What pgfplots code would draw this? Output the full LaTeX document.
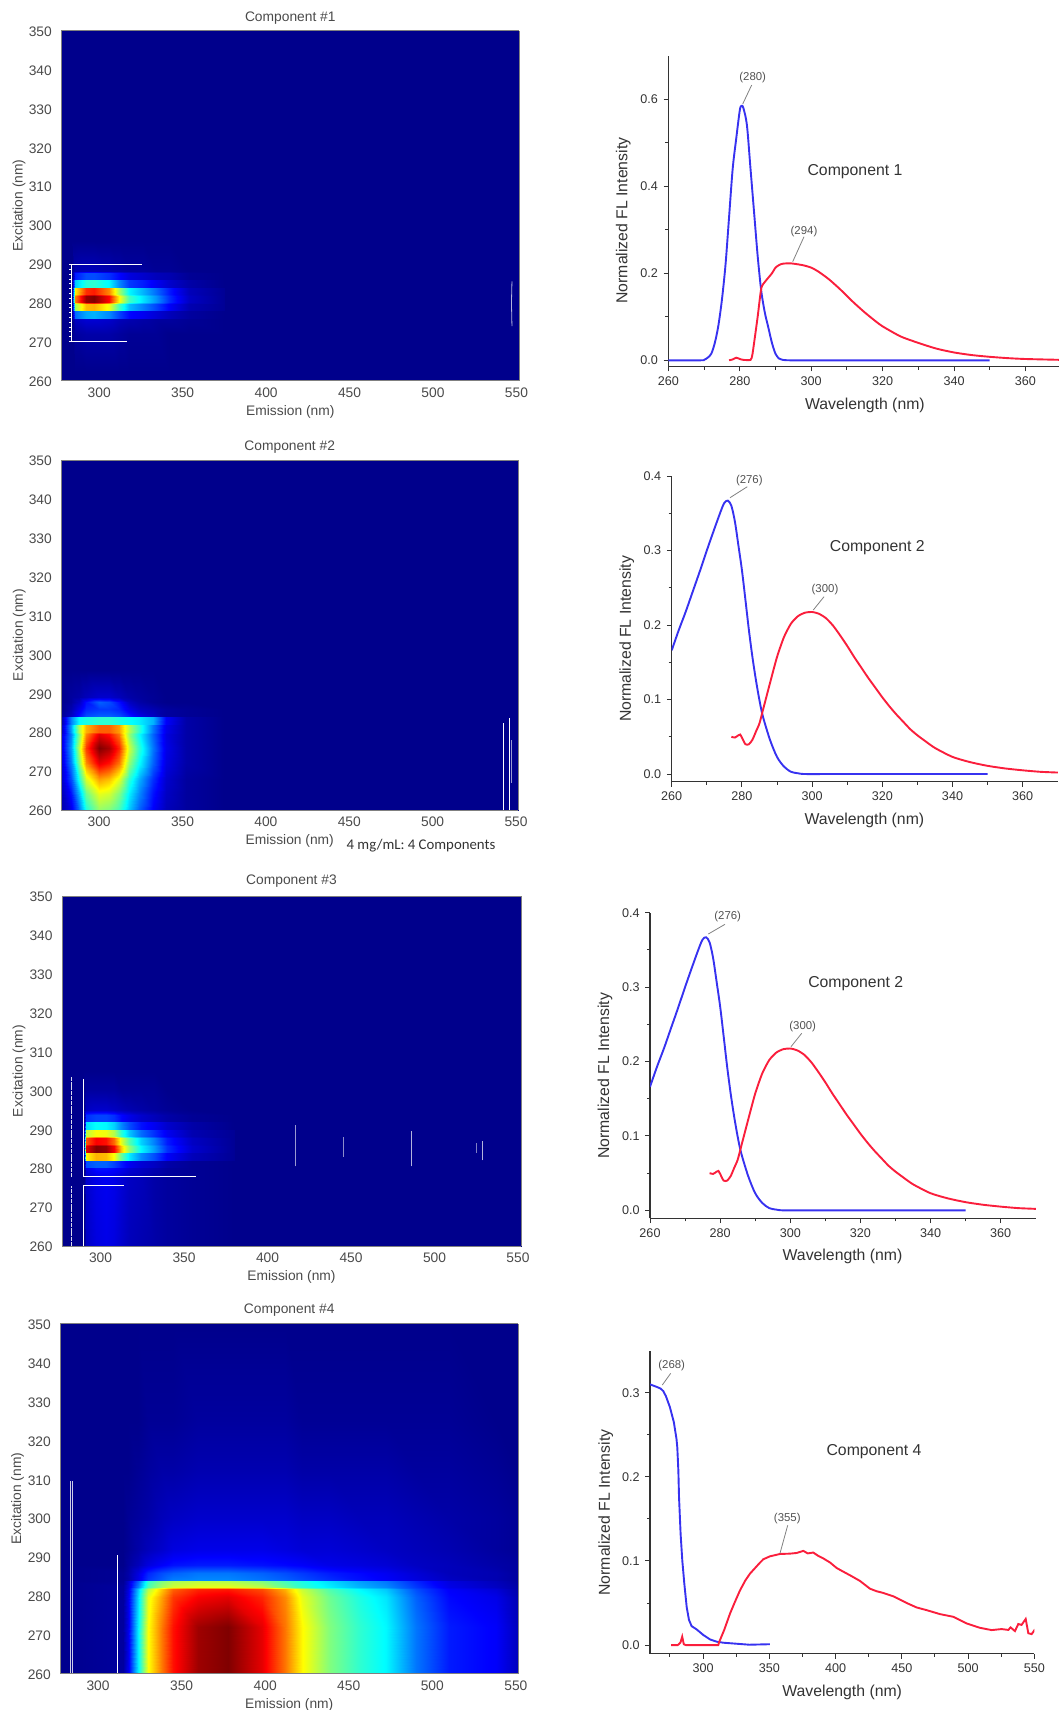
\documentclass[border=0pt]{standalone}
\usepackage{fontspec}
\setmainfont{Liberation Sans}
\newfontfamily\calib{Carlito}
\usepackage{pgfplots}
\usepackage{pgfplotstable}
\pgfplotsset{compat=1.18}
\definecolor{hgray}{HTML}{4A4A4A}
\definecolor{rgray}{HTML}{333333}
\definecolor{cblue}{RGB}{55,50,240}
\definecolor{cred}{RGB}{250,30,60}
\pgfplotsset{
 colormap={myjet}{rgb255(0cm)=(0,0,140); rgb255(1cm)=(0,0,255); rgb255(3cm)=(0,255,255); rgb255(5cm)=(255,255,0); rgb255(7cm)=(255,0,0); rgb255(8cm)=(128,0,0)},
 heat/.style={scale only axis, anchor=south west, view={0}{90}, ymin=260, ymax=350, zmin=0, zmax=1,
  xtick={300,350,...,550}, ytick={260,270,...,350}, ztick=\empty,
  colormap name=myjet, point meta min=0, point meta max=1,
  tick style={draw=none}, axis line style={draw=gray, line width=.4pt},
  /pgf/number format/assume math mode=true,
  every axis title shift=0pt,
  tick label style={font=\fontsize{6.9}{8}\selectfont, text=hgray},
  label style={font=\fontsize{6.9}{8}\selectfont, text=hgray},
  title style={font=\fontsize{6.9}{8}\selectfont, text=hgray, at={(axis description cs:.5,1)}, anchor=center},
  xticklabel style={anchor=center, yshift=-6pt},
  yticklabel style={anchor=east, xshift=-1.2pt, yshift=-.5pt},
  xlabel={Emission (nm)}, ylabel={Excitation (nm)},
  xlabel style={at={(axis description cs:.5,0)}, anchor=center, yshift=-15.6pt}},
 fl/.style={scale only axis, anchor=south west, axis lines*=left, axis line style={-, draw=rgray, line width=.55pt},
  tick align=outside, tick style={draw=rgray, line width=.5pt}, major tick length=2.4pt, minor tick length=1.5pt,
  /pgf/number format/fixed, /pgf/number format/fixed zerofill, /pgf/number format/precision=1, /pgf/number format/assume math mode=true,
  tick label style={font=\fontsize{6.3}{8}\selectfont, text=rgray},
  label style={font=\fontsize{7.9}{9}\selectfont, text=rgray},
  xticklabel style={anchor=center, yshift=-4.8pt, /pgf/number format/precision=0},
  yticklabel style={anchor=east, xshift=.7pt},
  xlabel={Wavelength (nm)}, ylabel={Normalized FL Intensity}},
 bl/.style={draw=cblue, line width=.95pt, mark=none},
 rd/.style={draw=cred, line width=.95pt, mark=none},
 wl/.style={draw=white, line width=.4pt, mark=none}
}
\pgfplotstableread{
x y
260 0
269 0
270 .001
271 .006
272 .015
273 .04
274 .08
275 .14
276 .22
277 .33
278 .44
279 .51
280 .575
280.5 .585
281 .58
282 .54
283 .44
284 .34
285 .24
286 .16
287 .11
288 .075
289 .04
290 .015
291 .004
292 .001
294 0
300 0
340 0
350 0
}\Aex
\pgfplotstableread{
x y
277 0
278 .002
279 .006
280 .003
281 .001
283 .001
283.5 .012
284 .04
285 .1
286 .165
287 .18
288 .19
289 .2
290 .213
291 .219
292 .222
294 .223
296 .221
298 .218
300 .213
302 .204
305 .186
308 .164
310 .148
312 .132
315 .11
318 .09
320 .078
325 .055
330 .04
335 .027
340 .018
345 .012
350 .008
355 .005
360 .003
370 .001
}\Aem
\pgfplotstableread{
x y
260 .166
262 .193
264 .218
266 .245
268 .272
270 .3
272 .327
274 .353
275 .364
276 .367
277 .36
278 .339
279 .307
280 .274
281 .234
282 .193
283 .157
284 .126
285 .099
286 .077
288 .046
290 .023
292 .01
294 .003
296 .001
298 0
305 0
340 0
350 0
}\Bex
\pgfplotstableread{
x y
277 .05
278 .049
279 .052
279.5 .053
280 .049
281 .04
282 .04
283 .046
284 .057
285 .068
286 .086
288 .122
290 .157
292 .184
294 .202
296 .212
298 .2166
300 .2175
302 .215
304 .209
306 .199
308 .186
310 .172
312 .157
314 .143
316 .129
318 .116
320 .103
322 .091
324 .08
326 .07
328 .06
330 .052
332 .045
335 .035
340 .023
345 .016
350 .011
355 .0075
360 .005
365 .003
370 .002
}\Bem
\pgfplotstableread{
x y
260 .31
265 .307
268 .305
270 .302
272 .296
275 .283
278 .265
280 .245
280.6 .235
281.4 .2075
281.9 .176
283.1 .132
284.4 .1
285.9 .073
287.7 .045
289.4 .03
291.4 .0225
295.2 .0186
300.2 .012
305.3 .0067
310.3 .004
315.3 .0028
325 .0016
335 .0004
350.5 .001
}\Dex
\pgfplotstableread{
x y
276 0
281 0
283 .003
284.3 .01
285.5 .001
287 0
311.5 0
312.3 .004
316 .018
320.4 .0375
324 .051
327.9 .065
332 .077
335.5 .085
340.5 .0937
343 .098
345.5 .102
350.5 .1055
358.1 .1083
365.6 .1087
370.7 .1095
375.7 .112
379 .109
383.2 .11
387 .106
390.8 .103
396 .098
400.8 .0917
405 .088
410.9 .083
418.4 .0763
426 .067
431 .064
436 .062
443.6 .058
453.7 .05
461.2 .0447
468.8 .0415
478.8 .0368
488.9 .0336
498.9 .0257
509 .0205
517.8 .0178
525.3 .019
530.4 .018
532.1 .021
535.4 .0166
537.9 .025
540.4 .024
543.5 .031
545.5 .014
548 .013
550.5 .0186
}\Dem
\begin{document}
\begin{tikzpicture}[x=.5pt,y=-.5pt]
\path[use as bounding box] (0,0) rectangle (1059,1710);
% ---- Heat map 1
\begin{axis}[heat, at={(30.65pt,-190.3pt)}, width=229pt, height=175pt, xmin=277.3, xmax=551.7, title={Component \#1}, title style={yshift=6.3pt}, ylabel style={at={(axis description cs:-.092,.5)}, anchor=center}]
\addplot3[surf, shader=interp, mesh/cols=2] coordinates {(270,260,0)(560,260,0)(270,350,0)(560,350,0)};
\addplot3[surf, shader=interp, mesh/cols=12] coordinates {
(284,262,0)(285.5,262,0)(292,262,0)(297,262,0)(306,262,0)(312,262,0)(318,262,0)(326,262,0)(334,262,0)(342,262,0)(354,262,0)(375,262,0)
(284,272,0)(285.5,272,.02)(292,272,.03)(297,272,.03)(306,272,.03)(312,272,.02)(318,272,.01)(326,272,.01)(334,272,.01)(342,272,0)(354,272,0)(375,272,0)
(284,275.8,0)(285.5,275.8,.06)(292,275.8,.08)(297,275.8,.08)(306,275.8,.07)(312,275.8,.05)(318,275.8,.04)(326,275.8,.03)(334,275.8,.02)(342,275.8,.02)(354,275.8,.01)(375,275.8,0)
(284,276.2,0)(285.5,276.2,.23)(292,276.2,.29)(297,276.2,.3)(306,276.2,.26)(312,276.2,.19)(318,276.2,.13)(326,276.2,.11)(334,276.2,.08)(342,276.2,.05)(354,276.2,.02)(375,276.2,0)
(284,277.8,0)(285.5,277.8,.23)(292,277.8,.29)(297,277.8,.3)(306,277.8,.26)(312,277.8,.19)(318,277.8,.13)(326,277.8,.11)(334,277.8,.08)(342,277.8,.05)(354,277.8,.02)(375,277.8,0)
(284,278.2,0)(285.5,278.2,.53)(292,278.2,.69)(297,278.2,.7)(306,278.2,.61)(312,278.2,.44)(318,278.2,.31)(326,278.2,.25)(334,278.2,.19)(342,278.2,.12)(354,278.2,.04)(375,278.2,.01)
(284,279.8,0)(285.5,279.8,.53)(292,279.8,.69)(297,279.8,.7)(306,279.8,.61)(312,279.8,.44)(318,279.8,.31)(326,279.8,.25)(334,279.8,.19)(342,279.8,.12)(354,279.8,.04)(375,279.8,.01)
(284,280.2,0)(285.5,280.2,.75)(292,280.2,.98)(297,280.2,1)(306,280.2,.87)(312,280.2,.63)(318,280.2,.44)(326,280.2,.35)(334,280.2,.27)(342,280.2,.17)(354,280.2,.06)(375,280.2,.01)
(284,281.8,0)(285.5,281.8,.75)(292,281.8,.98)(297,281.8,1)(306,281.8,.87)(312,281.8,.63)(318,281.8,.44)(326,281.8,.35)(334,281.8,.27)(342,281.8,.17)(354,281.8,.06)(375,281.8,.01)
(284,282.2,0)(285.5,282.2,.64)(292,282.2,.83)(297,282.2,.85)(306,282.2,.74)(312,282.2,.54)(318,282.2,.37)(326,282.2,.3)(334,282.2,.23)(342,282.2,.15)(354,282.2,.05)(375,282.2,.01)
(284,283.8,0)(285.5,283.8,.64)(292,283.8,.83)(297,283.8,.85)(306,283.8,.74)(312,283.8,.54)(318,283.8,.37)(326,283.8,.3)(334,283.8,.23)(342,283.8,.15)(354,283.8,.05)(375,283.8,.01)
(284,284.2,0)(285.5,284.2,.32)(292,284.2,.41)(297,284.2,.42)(306,284.2,.37)(312,284.2,.26)(318,284.2,.18)(326,284.2,.15)(334,284.2,.11)(342,284.2,.07)(354,284.2,.03)(375,284.2,0)
(284,285.8,0)(285.5,285.8,.32)(292,285.8,.41)(297,285.8,.42)(306,285.8,.37)(312,285.8,.26)(318,285.8,.18)(326,285.8,.15)(334,285.8,.11)(342,285.8,.07)(354,285.8,.03)(375,285.8,0)
(284,286.2,0)(285.5,286.2,.15)(292,286.2,.2)(297,286.2,.2)(306,286.2,.17)(312,286.2,.13)(318,286.2,.09)(326,286.2,.07)(334,286.2,.05)(342,286.2,.04)(354,286.2,.01)(375,286.2,0)
(284,287.8,0)(285.5,287.8,.15)(292,287.8,.2)(297,287.8,.2)(306,287.8,.17)(312,287.8,.13)(318,287.8,.09)(326,287.8,.07)(334,287.8,.05)(342,287.8,.04)(354,287.8,.01)(375,287.8,0)
(284,288.2,0)(285.5,288.2,.04)(292,288.2,.05)(297,288.2,.05)(306,288.2,.04)(312,288.2,.03)(318,288.2,.02)(326,288.2,.02)(334,288.2,.01)(342,288.2,.01)(354,288.2,0)(375,288.2,0)
(284,296,0)(285.5,296,0)(292,296,0)(297,296,0)(306,296,0)(312,296,0)(318,296,0)(326,296,0)(334,296,0)(342,296,0)(354,296,0)(375,296,0)
};
\addplot3[wl, dotted, line width=.8pt] coordinates {(282.6,270,1)(282.6,290,1)};
\addplot3[wl] coordinates {(284,270.2,1)(283.4,270.2,1)(283.4,289.8,1)(284,289.8,1)(325.7,289.8,1)};
\addplot3[wl] coordinates {(283.4,270.2,1)(316.9,270.2,1)};
\addplot3[wl, draw opacity=.7] coordinates {(547.3,274,1)(547,280,1)(547.3,285.5,1)};
\end{axis}
% ---- Heat map 2
\begin{axis}[heat, at={(30.65pt,-405pt)}, width=228.45pt, height=175pt, xmin=277.3, xmax=551.3, title={Component \#2}, title style={yshift=6.5pt}, ylabel style={at={(axis description cs:-.092,.5)}, anchor=center}]
\addplot3[surf, shader=interp, mesh/cols=2] coordinates {(270,260,0)(560,260,0)(270,350,0)(560,350,0)};
\addplot3[surf, shader=interp, mesh/cols=13] coordinates {
(277,260,.03)(283,260,.1)(288,260,.24)(292,260,.4)(300,260,.52)(306,260,.5)(312,260,.44)(318,260,.32)(324,260,.22)(332,260,.12)(340,260,.05)(352,260,.02)(375,260,0)
(277,264,.04)(283,264,.14)(288,264,.3)(292,264,.48)(300,264,.6)(306,264,.58)(312,264,.5)(318,264,.36)(324,264,.26)(332,264,.14)(340,264,.06)(352,264,.02)(375,264,0)
(277,268,.06)(283,268,.2)(288,268,.4)(292,268,.59)(300,268,.72)(306,268,.69)(312,268,.6)(318,268,.42)(324,268,.3)(332,268,.17)(340,268,.07)(352,268,.02)(375,268,0)
(277,272,.07)(283,272,.25)(288,272,.5)(292,272,.74)(300,272,.9)(306,272,.86)(312,272,.76)(318,272,.52)(324,272,.38)(332,272,.22)(340,272,.09)(352,272,.03)(375,272,0)
(277,276,.08)(283,276,.28)(288,276,.56)(292,276,.82)(300,276,1)(306,276,.96)(312,276,.84)(318,276,.58)(324,276,.42)(332,276,.24)(340,276,.1)(352,276,.03)(375,276,0)
(277,279.6,.07)(283,279.6,.25)(288,279.6,.5)(292,279.6,.74)(300,279.6,.9)(306,279.6,.86)(312,279.6,.76)(318,279.6,.52)(324,279.6,.38)(332,279.6,.22)(340,279.6,.09)(352,279.6,.03)(375,279.6,0)
(277,280,.04)(283,280,.28)(288,280,.55)(292,280,.7)(300,280,.78)(306,280,.78)(312,280,.72)(318,280,.55)(324,280,.42)(332,280,.24)(340,280,.1)(352,280,.03)(375,280,0)
(277,281.8,.04)(283,281.8,.28)(288,281.8,.55)(292,281.8,.7)(300,281.8,.78)(306,281.8,.78)(312,281.8,.72)(318,281.8,.55)(324,281.8,.42)(332,281.8,.24)(340,281.8,.1)(352,281.8,.03)(375,281.8,0)
(277,282.2,.02)(283,282.2,.25)(288,282.2,.38)(292,282.2,.4)(300,282.2,.42)(306,282.2,.42)(312,282.2,.4)(318,282.2,.38)(324,282.2,.36)(332,282.2,.3)(340,282.2,.12)(352,282.2,.03)(375,282.2,0)
(277,283.8,.02)(283,283.8,.25)(288,283.8,.38)(292,283.8,.4)(300,283.8,.42)(306,283.8,.42)(312,283.8,.4)(318,283.8,.38)(324,283.8,.36)(332,283.8,.3)(340,283.8,.12)(352,283.8,.03)(375,283.8,0)
(277,284.2,.01)(283,284.2,.06)(288,284.2,.14)(292,284.2,.2)(300,284.2,.22)(306,284.2,.22)(312,284.2,.2)(318,284.2,.15)(324,284.2,.1)(332,284.2,.06)(340,284.2,.02)(352,284.2,.01)(375,284.2,0)
(277,286,0)(283,286,.04)(288,286,.1)(292,286,.16)(300,286,.18)(306,286,.18)(312,286,.16)(318,286,.1)(324,286,.06)(332,286,.04)(340,286,.02)(352,286,.01)(375,286,0)
(277,287.8,0)(283,287.8,.02)(288,287.8,.06)(292,287.8,.14)(300,287.8,.22)(306,287.8,.2)(312,287.8,.14)(318,287.8,.06)(324,287.8,.03)(332,287.8,.01)(340,287.8,0)(352,287.8,0)(375,287.8,0)
(277,289,0)(283,289,.02)(288,289,.03)(292,289,.05)(300,289,.07)(306,289,.07)(312,289,.05)(318,289,.03)(324,289,.02)(332,289,.01)(340,289,0)(352,289,0)(375,289,0)
(277,296,0)(283,296,0)(288,296,0)(292,296,0)(300,296,0)(306,296,0)(312,296,0)(318,296,0)(324,296,0)(332,296,0)(340,296,0)(352,296,0)(375,296,0)
};
\addplot3[wl] coordinates {(542.6,260,1)(542.6,282.3,1)};
\addplot3[wl] coordinates {(545.9,260,1)(545.9,283.6,1)};
\addplot3[wl, draw opacity=.6] coordinates {(547.5,267,1)(547.5,278,1)};
\end{axis}
% ---- Heat map 3
\begin{axis}[heat, at={(31pt,-623pt)}, width=229.5pt, height=175pt, xmin=276.9, xmax=551.8, title={Component \#3}, title style={yshift=7.5pt}, ylabel style={at={(axis description cs:-.0937,.5)}, anchor=center}]
\addplot3[surf, shader=interp, mesh/cols=2] coordinates {(270,260,0)(560,260,0)(270,350,0)(560,350,0)};
\addplot3[surf, shader=interp, mesh/cols=12] coordinates {
(290,260,0)(291.5,260,.06)(297,260,.09)(303,260,.1)(308,260,.09)(312,260,.07)(317,260,.05)(324,260,.04)(332,260,.03)(340,260,.02)(355,260,.01)(380,260,0)
(290,278,0)(291.5,278,.07)(297,278,.1)(303,278,.11)(308,278,.1)(312,278,.08)(317,278,.06)(324,278,.05)(332,278,.03)(340,278,.02)(355,278,.01)(380,278,0)
(290,280,0)(291.5,280,.1)(297,280,.14)(303,280,.14)(308,280,.13)(312,280,.11)(317,280,.08)(324,280,.06)(332,280,.04)(340,280,.02)(355,280,.01)(380,280,0)
(290,280.2,0)(291.5,280.2,.2)(297,280.2,.22)(303,280.2,.22)(308,280.2,.19)(312,280.2,.15)(317,280.2,.11)(324,280.2,.08)(332,280.2,.06)(340,280.2,.03)(355,280.2,.01)(380,280.2,0)
(290,281.8,0)(291.5,281.8,.2)(297,281.8,.22)(303,281.8,.22)(308,281.8,.19)(312,281.8,.15)(317,281.8,.11)(324,281.8,.08)(332,281.8,.06)(340,281.8,.03)(355,281.8,.01)(380,281.8,0)
(290,282.2,0)(291.5,282.2,.63)(297,282.2,.7)(303,282.2,.69)(308,282.2,.62)(312,282.2,.48)(317,282.2,.36)(324,282.2,.26)(332,282.2,.2)(340,282.2,.12)(355,282.2,.05)(380,282.2,.01)
(290,283.8,0)(291.5,283.8,.63)(297,283.8,.7)(303,283.8,.69)(308,283.8,.62)(312,283.8,.48)(317,283.8,.36)(324,283.8,.26)(332,283.8,.2)(340,283.8,.12)(355,283.8,.05)(380,283.8,.01)
(290,284.2,0)(291.5,284.2,.9)(297,284.2,1)(303,284.2,.98)(308,284.2,.88)(312,284.2,.68)(317,284.2,.52)(324,284.2,.37)(332,284.2,.28)(340,284.2,.17)(355,284.2,.07)(380,284.2,.01)
(290,285.8,0)(291.5,285.8,.9)(297,285.8,1)(303,285.8,.98)(308,285.8,.88)(312,285.8,.68)(317,285.8,.52)(324,285.8,.37)(332,285.8,.28)(340,285.8,.17)(355,285.8,.07)(380,285.8,.01)
(290,286.2,0)(291.5,286.2,.79)(297,286.2,.88)(303,286.2,.86)(308,286.2,.77)(312,286.2,.6)(317,286.2,.46)(324,286.2,.33)(332,286.2,.25)(340,286.2,.15)(355,286.2,.06)(380,286.2,.01)
(290,287.8,0)(291.5,287.8,.79)(297,287.8,.88)(303,287.8,.86)(308,287.8,.77)(312,287.8,.6)(317,287.8,.46)(324,287.8,.33)(332,287.8,.25)(340,287.8,.15)(355,287.8,.06)(380,287.8,.01)
(290,288.2,0)(291.5,288.2,.56)(297,288.2,.62)(303,288.2,.61)(308,288.2,.55)(312,288.2,.42)(317,288.2,.32)(324,288.2,.23)(332,288.2,.17)(340,288.2,.11)(355,288.2,.04)(380,288.2,.01)
(290,289.8,0)(291.5,289.8,.56)(297,289.8,.62)(303,289.8,.61)(308,289.8,.55)(312,289.8,.42)(317,289.8,.32)(324,289.8,.23)(332,289.8,.17)(340,289.8,.11)(355,289.8,.04)(380,289.8,.01)
(290,290.2,0)(291.5,290.2,.34)(297,290.2,.38)(303,290.2,.37)(308,290.2,.33)(312,290.2,.26)(317,290.2,.2)(324,290.2,.14)(332,290.2,.11)(340,290.2,.07)(355,290.2,.03)(380,290.2,0)
(290,291.8,0)(291.5,291.8,.34)(297,291.8,.38)(303,291.8,.37)(308,291.8,.33)(312,291.8,.26)(317,291.8,.2)(324,291.8,.14)(332,291.8,.11)(340,291.8,.07)(355,291.8,.03)(380,291.8,0)
(290,292.2,0)(291.5,292.2,.17)(297,292.2,.19)(303,292.2,.19)(308,292.2,.17)(312,292.2,.13)(317,292.2,.1)(324,292.2,.07)(332,292.2,.05)(340,292.2,.03)(355,292.2,.01)(380,292.2,0)
(290,293.8,0)(291.5,293.8,.17)(297,293.8,.19)(303,293.8,.19)(308,293.8,.17)(312,293.8,.13)(317,293.8,.1)(324,293.8,.07)(332,293.8,.05)(340,293.8,.03)(355,293.8,.01)(380,293.8,0)
(290,295,0)(291.5,295,.06)(297,295,.07)(303,295,.07)(308,295,.06)(312,295,.05)(317,295,.04)(324,295,.03)(332,295,.02)(340,295,.01)(355,295,0)(380,295,0)
(290,300,0)(291.5,300,.02)(297,300,.02)(303,300,.02)(308,300,.02)(312,300,.01)(317,300,.01)(324,300,.01)(332,300,.01)(340,300,0)(355,300,0)(380,300,0)
(290,305,0)(291.5,305,0)(297,305,0)(303,305,0)(308,305,0)(312,305,0)(317,305,0)(324,305,0)(332,305,0)(340,305,0)(355,305,0)(380,305,0)
};
\addplot3[wl, line width=.8pt, dash pattern=on 2pt off .4pt, draw opacity=.85] coordinates {(282.5,260,1)(282.5,275.5,1)};
\addplot3[wl, line width=.8pt, dash pattern=on 2pt off .4pt, draw opacity=.85] coordinates {(282.5,277.8,1)(282.5,303.5,1)};
\addplot3[wl] coordinates {(289.5,260,1)(289.5,275.7,1)(314,275.7,1)};
\addplot3[wl] coordinates {(289.5,303,1)(289.5,278,1)(357.2,278,1)};
\addplot3[wl, draw opacity=.6] coordinates {(416.5,280.5,1)(416.5,291,1)};
\addplot3[wl, draw opacity=.55] coordinates {(445.3,283,1)(445.3,288,1)};
\addplot3[wl, line width=.6pt, draw opacity=.7] coordinates {(486.4,280.5,1)(486.4,289.5,1)};
\addplot3[wl, draw opacity=.5] coordinates {(525.3,284,1)(525.3,286.5,1)};
\addplot3[wl, draw opacity=.7] coordinates {(528.6,282,1)(528.6,287,1)};
\end{axis}
% ---- Heat map 4
\begin{axis}[heat, at={(30.15pt,-836.85pt)}, width=228.95pt, height=175pt, xmin=277.4, xmax=551.4, title={Component \#4}, title style={yshift=7pt}, ylabel style={at={(axis description cs:-.0935,.5)}, anchor=center}]
\addplot3[surf, shader=interp, mesh/cols=2] coordinates {(270,260,0)(560,260,0)(270,350,0)(560,350,0)};
\addplot3[surf, shader=interp, mesh/cols=19] coordinates {
(277,260,0)(315,260,.02)(318,260,.1)(324,260,.36)(330,260,.62)(338,260,.76)(345,260,.86)(360,260,.97)(378,260,1)(398,260,.9)(412,260,.76)(422,260,.63)(439,260,.5)(457,260,.42)(472,260,.37)(490,260,.24)(510,260,.15)(538,260,.12)(552,260,.05)
(277,272,0)(315,272,.02)(318,272,.1)(324,272,.36)(330,272,.62)(338,272,.76)(345,272,.86)(360,272,.97)(378,272,1)(398,272,.9)(412,272,.76)(422,272,.63)(439,272,.5)(457,272,.42)(472,272,.37)(490,272,.24)(510,272,.15)(538,272,.12)(552,272,.05)
(277,279.8,0)(315,279.8,.02)(318,279.8,.1)(324,279.8,.34)(330,279.8,.6)(338,279.8,.72)(345,279.8,.82)(360,279.8,.88)(378,279.8,.9)(398,279.8,.84)(412,279.8,.74)(422,279.8,.6)(439,279.8,.48)(457,279.8,.4)(472,279.8,.35)(490,279.8,.22)(510,279.8,.13)(538,279.8,.1)(552,279.8,.04)
(277,281.8,0)(315,281.8,.02)(318,281.8,.09)(324,281.8,.32)(330,281.8,.55)(338,281.8,.68)(345,281.8,.78)(360,281.8,.84)(378,281.8,.85)(398,281.8,.8)(412,281.8,.7)(422,281.8,.57)(439,281.8,.45)(457,281.8,.37)(472,281.8,.32)(490,281.8,.2)(510,281.8,.12)(538,281.8,.08)(552,281.8,.03)
(277,282.2,0)(315,282.2,.02)(318,282.2,.08)(324,282.2,.25)(330,282.2,.45)(338,282.2,.54)(345,282.2,.58)(360,282.2,.6)(378,282.2,.6)(398,282.2,.56)(412,282.2,.48)(422,282.2,.42)(439,282.2,.36)(457,282.2,.3)(472,282.2,.26)(490,282.2,.18)(510,282.2,.1)(538,282.2,.06)(552,282.2,.03)
(277,283.8,0)(315,283.8,.01)(318,283.8,.07)(324,283.8,.22)(330,283.8,.42)(338,283.8,.5)(345,283.8,.54)(360,283.8,.56)(378,283.8,.55)(398,283.8,.5)(412,283.8,.44)(422,283.8,.4)(439,283.8,.34)(457,283.8,.28)(472,283.8,.24)(490,283.8,.16)(510,283.8,.09)(538,283.8,.05)(552,283.8,.02)
(277,284.2,0)(315,284.2,.01)(318,284.2,.03)(324,284.2,.1)(330,284.2,.18)(338,284.2,.22)(345,284.2,.25)(360,284.2,.26)(378,284.2,.26)(398,284.2,.24)(412,284.2,.22)(422,284.2,.2)(439,284.2,.17)(457,284.2,.14)(472,284.2,.12)(490,284.2,.09)(510,284.2,.06)(538,284.2,.04)(552,284.2,.02)
(277,285.8,0)(315,285.8,.01)(318,285.8,.03)(324,285.8,.09)(330,285.8,.16)(338,285.8,.2)(345,285.8,.22)(360,285.8,.24)(378,285.8,.24)(398,285.8,.22)(412,285.8,.2)(422,285.8,.18)(439,285.8,.15)(457,285.8,.13)(472,285.8,.11)(490,285.8,.08)(510,285.8,.05)(538,285.8,.04)(552,285.8,.02)
(277,288,0)(315,288,0)(318,288,.02)(324,288,.05)(330,288,.09)(338,288,.12)(345,288,.14)(360,288,.15)(378,288,.15)(398,288,.14)(412,288,.13)(422,288,.12)(439,288,.1)(457,288,.09)(472,288,.08)(490,288,.06)(510,288,.05)(538,288,.03)(552,288,.02)
(277,292,0)(315,292,0)(318,292,.01)(324,292,.03)(330,292,.05)(338,292,.07)(345,292,.09)(360,292,.1)(378,292,.1)(398,292,.1)(412,292,.09)(422,292,.08)(439,292,.08)(457,292,.07)(472,292,.06)(490,292,.05)(510,292,.04)(538,292,.02)(552,292,.01)
(277,300,0)(315,300,0)(318,300,.01)(324,300,.02)(330,300,.03)(338,300,.05)(345,300,.06)(360,300,.07)(378,300,.07)(398,300,.07)(412,300,.07)(422,300,.06)(439,300,.06)(457,300,.05)(472,300,.05)(490,300,.04)(510,300,.03)(538,300,.02)(552,300,.01)
(277,312,0)(315,312,0)(318,312,0)(324,312,.01)(330,312,.02)(338,312,.03)(345,312,.03)(360,312,.04)(378,312,.04)(398,312,.04)(412,312,.04)(422,312,.03)(439,312,.03)(457,312,.03)(472,312,.03)(490,312,.02)(510,312,.02)(538,312,.01)(552,312,0)
(277,325,0)(315,325,0)(318,325,0)(324,325,0)(330,325,.01)(338,325,.01)(345,325,.01)(360,325,.02)(378,325,.02)(398,325,.02)(412,325,.02)(422,325,.01)(439,325,.01)(457,325,.01)(472,325,.01)(490,325,.01)(510,325,.01)(538,325,0)(552,325,0)
(277,350,0)(315,350,0)(318,350,0)(324,350,0)(330,350,0)(338,350,0)(345,350,0)(360,350,0)(378,350,0)(398,350,0)(412,350,0)(422,350,0)(439,350,0)(457,350,0)(472,350,0)(490,350,0)(510,350,0)(538,350,0)(552,350,0)
};
\addplot3[wl, line width=.4pt, draw opacity=.8] coordinates {(283.5,260,1)(283.5,309.6,1)};
\addplot3[wl, line width=.4pt, draw opacity=.8] coordinates {(284.7,260,1)(284.7,309.6,1)};
\addplot3[wl] coordinates {(311.5,260,1)(311.5,290.5,1)};
\end{axis}
% ---- Right panels
\begin{axis}[fl, at={(334.2pt,-183.3pt)}, width=195.3pt, height=155.4pt, xmin=260, xmax=369.4, ymin=-.0145, ymax=.7,
  xtick={260,280,...,360}, minor xtick={270,290,...,350}, ytick={0,.2,.4,.6}, minor ytick={.1,.3,.5},
  xlabel style={at={(axis description cs:.503,0)}, anchor=center, yshift=-19.2pt},
  ylabel style={at={(axis description cs:-.1155,.47)}, anchor=center}]
\addplot[bl, smooth] table {\Aex};
\addplot[rd, smooth, tension=.4] table {\Aem};
\end{axis}
\begin{axis}[fl, at={(335.85pt,-390.85pt)}, width=193.05pt, height=152.85pt, xmin=260, xmax=370, ymin=-.0103, ymax=.4,
  xtick={260,280,...,360}, minor xtick={270,290,...,350}, ytick={0,.1,.2,.3,.4}, minor ytick={.05,.15,.25,.35},
  xlabel style={at={(axis description cs:.499,0)}, anchor=center, yshift=-19.2pt},
  ylabel style={at={(axis description cs:-.1166,.467)}, anchor=center}]
\addplot[bl, smooth] table {\Bex};
\addplot[rd, smooth, tension=.4] table {\Bem};
\end{axis}
\begin{axis}[fl, at={(325pt,-609.15pt)}, width=192.9pt, height=152.8pt, xmin=260, xmax=370, ymin=-.0107, ymax=.4,
  xtick={260,280,...,360}, minor xtick={270,290,...,350}, ytick={0,.1,.2,.3,.4}, minor ytick={.05,.15,.25,.35},
  xlabel style={at={(axis description cs:.499,0)}, anchor=center, yshift=-18.9pt},
  ylabel style={at={(axis description cs:-.1166,.466)}, anchor=center}]
\addplot[bl, smooth] table {\Bex};
\addplot[rd, smooth, tension=.4] table {\Bem};
\end{axis}
\begin{axis}[fl, at={(325pt,-826.85pt)}, width=192.15pt, height=151.5pt, xmin=260, xmax=550, ymin=-.0103, ymax=.35,
  xtick={300,350,...,550}, minor xtick={275,325,...,525}, ytick={0,.1,.2,.3}, minor ytick={.05,.15,.25},
  xlabel style={at={(axis description cs:.5,0)}, anchor=center, yshift=-19.3pt},
  ylabel style={at={(axis description cs:-.1153,.466)}, anchor=center}]
\addplot[bl] table {\Dex};
\addplot[rd] table {\Dem};
\end{axis}
% ---- Annotations (picture coordinates)
\tikzset{ann/.style={font=\fontsize{5.7}{7}\selectfont, text=rgray!85, inner sep=0pt}, comp/.style={font=\fontsize{7.9}{9}\selectfont, text=rgray, inner sep=0pt}, lead/.style={draw=gray, line width=.4pt}}
\node[ann] at (752.7,78) {(280)};
\draw[lead] (751.7,85) -- (742.7,104);
\node[ann] at (804,231.3) {(294)};
\draw[lead] (804,236.7) -- (792.7,261.7);
\node[comp] at (855,172) {Component 1};
\node[ann] at (749.3,480.3) {(276)};
\draw[lead] (747.3,486.7) -- (730,497.7);
\node[ann] at (825,589.6) {(300)};
\draw[lead] (824,596.7) -- (813.3,610);
\node[comp] at (877.3,548) {Component 2};
\node[ann] at (727.7,917) {(276)};
\draw[lead] (725,924.3) -- (708.3,934);
\node[ann] at (802.7,1026.3) {(300)};
\draw[lead] (801.7,1033.3) -- (791,1046.7);
\node[comp] at (855.7,984) {Component 2};
\node[ann] at (671.7,1366) {(268)};
\draw[lead] (670.7,1373.3) -- (662.3,1385);
\node[ann] at (787.3,1519) {(355)};
\draw[lead] (787.7,1525.3) -- (780,1553.3);
\node[comp] at (874,1451.3) {Component 4};
\node[font=\calib\fontsize{7.4}{9}\selectfont, text=black!80, inner sep=0pt] at (421,846) {4 mg/mL: 4 Components};
\end{tikzpicture}
\end{document}
